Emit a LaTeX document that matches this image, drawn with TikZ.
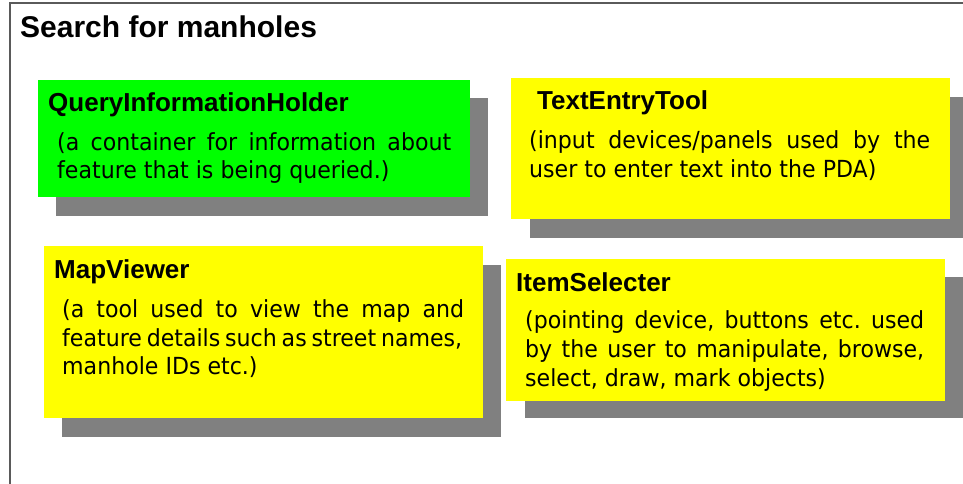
\documentclass[tikz,border=0pt]{standalone}
\usepackage{fontspec}
\setmainfont{Liberation Sans}
\newfontfamily\bodyfont[FakeStretch=0.94]{DejaVu Sans}
\definecolor{shadowgray}{HTML}{808080}
\definecolor{framegray}{HTML}{5A5A5A}
\definecolor{boxgreen}{HTML}{00FF00}
\definecolor{boxyellow}{HTML}{FFFF00}
% a line of body text spread to a given width
\newcommand{\spreadline}[2]{\makebox[#1pt][s]{#2}}
\tikzset{
  shadowbox/.style={fill=shadowgray, draw=none},
  heading/.style={anchor=base west, inner sep=0pt, font=\fontsize{30}{30}\selectfont\bfseries},
  boxtitle/.style={anchor=base west, inner sep=0pt, font=\fontsize{26}{26}\selectfont\bfseries},
  boxbody/.style={anchor=base west, inner sep=0pt, font=\bodyfont\fontsize{23.5}{23.5}\selectfont\frenchspacing}
}
\begin{document}
\begin{tikzpicture}[x=1pt,y=-1pt]
  \useasboundingbox (0,0) rectangle (963,484);
  % outer frame, running past the page edge on the right and bottom
  \coordinate (frameBL) at (10,484);
  \coordinate (frameTL) at (10,3);
  \coordinate (frameTR) at (963,3);
  \draw[framegray, line width=1.5pt] (frameBL) -- (frameTL) -- (frameTR);
  \node[heading] (title) at (20,38) {Search for manholes};

  % QueryInformationHolder
  \fill[shadowbox] (56,98) rectangle (488,216);
  \fill[boxgreen] (38,80) rectangle (470,197);
  \node[boxtitle] (qihT) at (48,112) {QueryInformationHolder};
  \node[boxbody] (qihA) at (57,150) {\spreadline{394}{(a container for information about}};
  \node[boxbody] (qihB) at (57,178) {feature that is being queried.)};

  % TextEntryTool
  \fill[shadowbox] (530,97) rectangle (969,238);
  \fill[boxyellow] (511,78) rectangle (950,219);
  \node[boxtitle] (tetT) at (537,110) {TextEntryTool};
  \node[boxbody] (tetA) at (529,148) {\spreadline{401}{(input devices/panels used by the}};
  \node[boxbody] (tetB) at (529,177) {user to enter text into the PDA)};

  % MapViewer
  \fill[shadowbox] (62,265) rectangle (501,437);
  \fill[boxyellow] (44,246) rectangle (483,418);
  \node[boxtitle] (mvT) at (54,278) {MapViewer};
  \node[boxbody] (mvA) at (62,317) {\spreadline{402}{(a tool used to view the map and}};
  \node[boxbody] (mvB) at (62,346) {\spreadline{400}{feature details such as street names,}};
  \node[boxbody] (mvC) at (62,374) {manhole IDs etc.)};

  % ItemSelecter
  \fill[shadowbox] (525,277) rectangle (964,418);
  \fill[boxyellow] (506,259) rectangle (945,401);
  \node[boxtitle] (isT) at (516,291) {ItemSelecter};
  \node[boxbody] (isA) at (525,328) {\spreadline{399}{(pointing device, buttons etc. used}};
  \node[boxbody] (isB) at (525,357) {\spreadline{399}{by the user to manipulate, browse,}};
  \node[boxbody] (isC) at (525,386) {select, draw, mark objects)};
\end{tikzpicture}
\end{document}
